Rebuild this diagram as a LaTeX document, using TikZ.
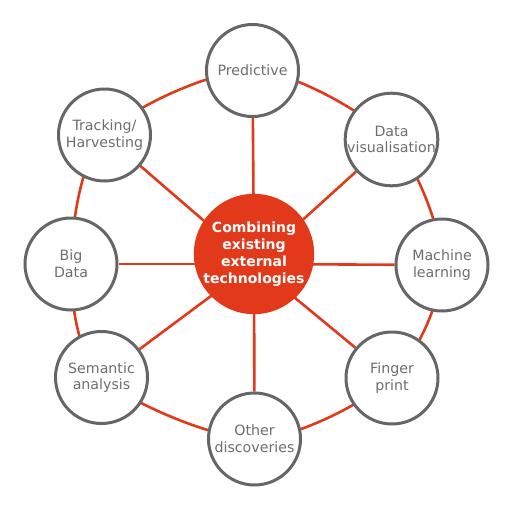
\documentclass[tikz,border=0pt]{standalone}
\usepackage{fontspec}
\setmainfont{DejaVu Sans}
\usetikzlibrary{backgrounds}
\definecolor{ringred}{HTML}{E2391B}
\definecolor{rimgray}{HTML}{666666}
\definecolor{txtgray}{HTML}{6E6E6E}

\begin{document}
\begin{tikzpicture}[
  x=1pt, y=-1pt,
  font=\fontsize{14.2}{16.8}\selectfont,
  topic/.style={circle, draw=rimgray, line width=3pt, fill=white, minimum size=92pt, inner sep=0pt, align=center, text=txtgray},
  hub/.style={circle, fill=ringred, minimum size=120pt, inner sep=0pt, align=center, text=white, font=\fontsize{14}{17.2}\selectfont\bfseries},
  link/.style={draw=ringred, line width=2.6pt}
]
\useasboundingbox (0,0) rectangle (507,512);

% ---- Hub ----
\coordinate (core) at (254,264);
\node[hub] (hubc) at (254,254) {Combining\\existing\\external\\technologies};

% ---- Topics ----
\node[topic] (pred)  at (252.5,70.5) {Predictive};
\node[topic] (datav) at (391.5,139.5) {Data\\visualisation};
\node[topic] (mach)  at (442,265) {Machine\\learning};
\node[topic] (fing)  at (392,378) {Finger\\print};
\node[topic] (other) at (254.5,439) {Other\\discoveries};
\node[topic] (sem)   at (101.5,377.5) {Semantic\\analysis};
\node[topic] (bigd)  at (71,264) {Big\\Data};
\node[topic] (track) at (104.5,135) {Tracking/\\Harvesting};

% ---- Ring and spokes ----
\begin{scope}[on background layer]
\draw[link] plot[smooth cycle, tension=0.5] coordinates {(pred) (datav) (mach) (fing) (other) (sem) (bigd) (track)};
\foreach \t in {pred,datav,mach,fing,other,sem,bigd,track}
  \draw[link] (core) -- (\t);
\end{scope}
\end{tikzpicture}
\end{document}
